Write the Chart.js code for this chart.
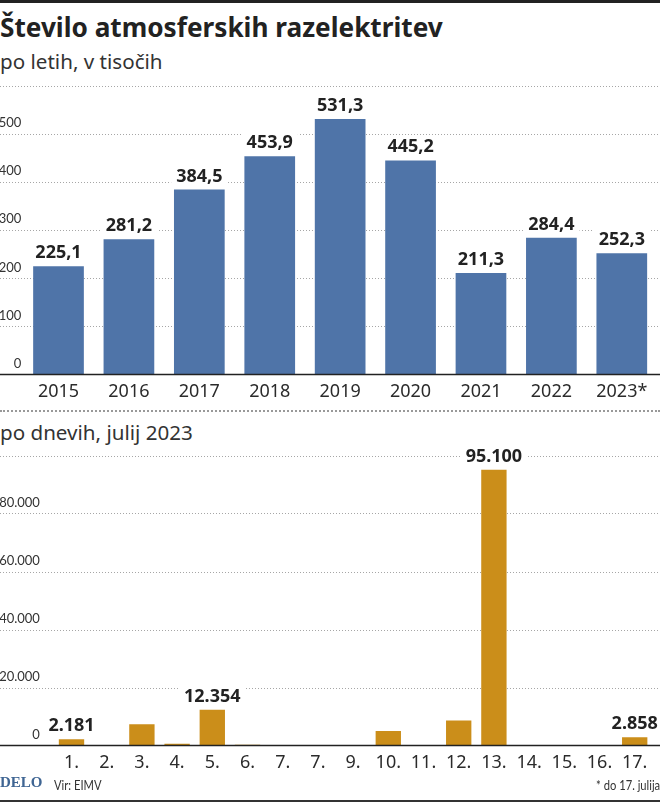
<!DOCTYPE html>
<html lang="sl">
<head>
<meta charset="utf-8">
<title>Število atmosferskih razelektritev</title>
<script src="https://cdn.jsdelivr.net/npm/chart.js@4/dist/chart.umd.min.js"></script>
<style>
    html, body { margin: 0; padding: 0; background: #fff; }
    body { width: 660px; height: 802px; position: relative; overflow: hidden; font-family: "Noto Sans", sans-serif; color: #2b2b2b; }
    canvas { position: absolute; left: 0; }
    .txt { position: absolute; white-space: nowrap; }
    .rule { position: absolute; left: 0; width: 660px; }
    #title { left: 0; top: 9px; font-size: 26.2px; font-weight: 700; color: #222; }
    .sub { left: 0; font-size: 20.6px; color: #333; }
    #logo { left: 0; top: 774px; font: 700 15px "Liberation Serif", serif; color: #3f6593; }
    .note { top: 776px; font: 14px Lato, sans-serif; color: #333; transform: scaleX(0.8); }
</style>
</head>
<body>
<div class="rule" style="top:0;height:3px;background:#222"></div>
<div class="txt" id="title">Število atmosferskih razelektritev</div>
<div class="txt sub" style="top:47px">po letih, v tisočih</div>
<canvas id="yearChart" width="660" height="330" style="top:76px"></canvas>
<div class="rule" style="top:410px;border-top:2px dotted #999"></div>
<div class="txt sub" style="top:418px">po dnevih, julij 2023</div>
<canvas id="dayChart" width="660" height="332" style="top:446px"></canvas>
<div class="txt" id="logo">DELO</div>
<div class="txt note" style="left:54px;transform-origin:left">Vir: EIMV</div>
<div class="txt note" style="right:0;transform-origin:right">* do 17. julija</div>
<div class="rule" style="top:800px;height:2px;background:#333"></div>

<script>
// Po letih (v tisočih)
const years = ['2015', '2016', '2017', '2018', '2019', '2020', '2021', '2022', '2023*'];
const yearValues = [225.1, 281.2, 384.5, 453.9, 531.3, 445.2, 211.3, 284.4, 252.3];

// Po dnevih, julij 2023 (dve oznaki "7." sta tudi na izvirniku)
const days = ['1.', '2.', '3.', '4.', '5.', '6.', '7.', '7.', '9.', '10.', '11.', '12.', '13.', '14.', '15.', '16.', '17.'];
const dayValues = [2181, 0, 7300, 600, 12354, 300, 0, 0, 0, 5000, 0, 8600, 95100, 0, 0, 0, 2858];
const dayLabels = ['2.181', null, null, null, '12.354', null, null, null, null, null, null, null, '95.100', null, null, null, '2.858'];

const thousands = (v) => String(v).replace(/\B(?=(\d{3})+$)/g, '.');

// Pikčaste črte čez celo širino, vrednosti nad stolpci in osnovna črta
const panelPlugin = {
    id: 'panel',
    beforeDatasetsDraw(chart) {
        const { ctx, width, scales: { y } } = chart;
        ctx.save();
        ctx.strokeStyle = '#a6a6a6';
        ctx.lineWidth = 1;
        ctx.setLineDash([1, 2]);
        y.ticks.forEach((t) => {
            if (t.value === 0) return;
            const py = Math.round(y.getPixelForValue(t.value)) + 0.5;
            ctx.beginPath();
            ctx.moveTo(0, py);
            ctx.lineTo(width, py);
            ctx.stroke();
        });
        ctx.restore();
    },
    afterDatasetsDraw(chart, args, opts) {
        const { ctx, width, scales: { y } } = chart;
        const bars = chart.getDatasetMeta(0).data;
        ctx.save();
        ctx.font = '700 18px "Noto Sans"';
        ctx.textAlign = 'center';
        ctx.textBaseline = 'alphabetic';
        opts.labels.forEach((label, i) => {
            if (!label) return;
            const bar = bars[i];
            const w = ctx.measureText(label).width;
            ctx.fillStyle = '#fff';
            ctx.fillRect(bar.x - w / 2 - 5, bar.y - 25, w + 10, 21);
            ctx.fillStyle = '#222';
            ctx.fillText(label, bar.x, bar.y - 8);
        });
        const base = y.getPixelForValue(0);
        ctx.strokeStyle = '#222';
        ctx.lineWidth = 1.5;
        ctx.beginPath();
        ctx.moveTo(0, base);
        ctx.lineTo(width, base);
        ctx.stroke();
        ctx.restore();
    }
};

function makeChart(id, cfg) {
    return new Chart(document.getElementById(id), {
        type: 'bar',
        data: {
            labels: cfg.labels,
            datasets: [{
                data: cfg.values,
                backgroundColor: cfg.color,
                categoryPercentage: 0.72,
                barPercentage: 1
            }]
        },
        plugins: [panelPlugin],
        options: {
            responsive: false,
            animation: false,
            layout: { padding: { top: cfg.padTop, right: cfg.padRight, left: 0, bottom: 0 } },
            plugins: {
                legend: { display: false },
                tooltip: { enabled: false },
                panel: { labels: cfg.barLabels }
            },
            scales: {
                x: {
                    grid: { display: false },
                    border: { display: false },
                    afterFit: (s) => {
                        s.height = cfg.xHeight;
                        s.paddingLeft = 0;
                        s.paddingRight = 0;
                    },
                    ticks: {
                        color: '#2b2b2b',
                        font: { family: 'Noto Sans', size: 18 },
                        maxRotation: 0,
                        autoSkip: false,
                        padding: -1
                    }
                },
                y: {
                    min: 0,
                    max: cfg.max,
                    grid: { display: false, drawTicks: false },
                    border: { display: false },
                    afterFit: (s) => {
                        s.width = cfg.yWidth;
                        s.paddingTop = 0;
                        s.paddingBottom = 0;
                    },
                    ticks: {
                        stepSize: cfg.step,
                        color: '#333',
                        font: { family: 'Lato', size: 13 },
                        padding: cfg.yPad,
                        labelOffset: -11,
                        callback: (v) => (v === cfg.max ? '' : thousands(v))
                    }
                }
            }
        }
    });
}

makeChart('yearChart', {
    labels: years, values: yearValues, color: '#4f74a8',
    barLabels: yearValues.map((v) => v.toFixed(1).replace('.', ',')),
    max: 600, step: 100, padTop: 10, padRight: 3, xHeight: 31.5, yWidth: 23.3, yPad: 2
});
makeChart('dayChart', {
    labels: days, values: dayValues, color: '#cb8e1a',
    barLabels: dayLabels,
    max: 100000, step: 20000, padTop: 9.5, padRight: 7.7, xHeight: 32.5, yWidth: 53.9, yPad: 14
});
</script>
</body>
</html>
